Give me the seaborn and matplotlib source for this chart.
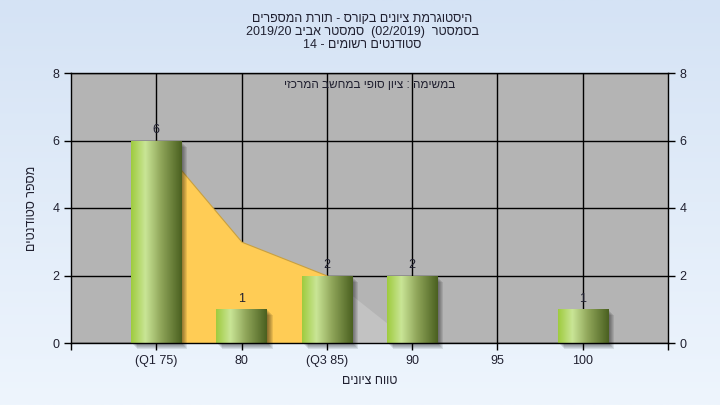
import re
import numpy as np
import pandas as pd
import matplotlib
matplotlib.use("Agg")
import matplotlib.pyplot as plt
import seaborn as sns
from matplotlib.colors import LinearSegmentedColormap
from matplotlib.patches import Rectangle
from matplotlib.transforms import blended_transform_factory

# chart data
grades = ["75", "80", "85", "90", "95", "100"]
students = [6, 1, 2, 2, 0, 1]
curve = [6, 3, 2, 0, 0, 0]
tick_labels = ["(Q1 75)", "80", "(Q3 85)", "90", "95", "100"]

title_lines = ["היסטוגרמת ציונים בקורס - תורת המספרים",
               "בסמסטר  (02/2019)  סמסטר אביב 2019/20",
               "סטודנטים רשומים - 14"]
task_text = "במשימה : ציון סופי במחשב המרכזי"
x_title = "טווח ציונים"
y_title = "מספר סטודנטים"


def rtl(s):
    # matplotlib has no bidi support: flip to visual order, keep LTR runs
    r = s[::-1]
    r = re.sub(r"[0-9A-Za-z/.]+", lambda m: m.group(0)[::-1], r)
    return r.translate(str.maketrans("()", ")("))


sns.set_style("white")
plt.rcParams["font.family"] = ["Liberation Sans", "DejaVu Sans"]

df = pd.DataFrame({"grade": grades, "students": students})

fig = plt.figure(figsize=(7.2, 4.05), dpi=100)

# background gradient
bg = fig.add_axes([0, 0, 1, 1], zorder=-10)
bg_cmap = LinearSegmentedColormap.from_list("bg", ["#d5e3f5", "#eef5fd"])
bg.imshow(np.linspace(0, 1, 256).reshape(-1, 1), cmap=bg_cmap, aspect="auto",
          extent=[0, 1, 0, 1])
bg.axis("off")

ax = fig.add_axes([71 / 720, 62 / 405, 597 / 720, 270 / 405])
ax.set_facecolor("#b4b4b4")

xs = np.arange(len(grades))
# distribution area: orange between Q1 and Q3, light gray after
ax.fill_between(xs[:3], curve[:3], color="#ffcc55", edgecolor="#c8a040",
                linewidth=0.8, zorder=2)
ax.fill_between(xs[2:], curve[2:], color="#c2c2c2", linewidth=0, zorder=2)

sns.barplot(data=df, x="grade", y="students", order=grades, width=0.59,
            color="#9fcb3e", ax=ax, zorder=4, linewidth=0)

grad_cmap = LinearSegmentedColormap.from_list(
    "bar", [(0, "#9fcb3e"), (0.28, "#c9e596"), (0.6, "#8ea458"), (1, "#4a6020")])
grad = np.linspace(0, 1, 128).reshape(1, -1)
px_x = 7 / 597
px_y = 8 / 270
for p in list(ax.patches):
    x0, w, h = p.get_x(), p.get_width(), p.get_height()
    if h <= 0:
        continue
    # soft shadow, offset right and down
    for k in range(6):
        off = 1 + k
        ax.add_patch(Rectangle((x0 + off * px_x, -off * px_y), w, h,
                               color="black", alpha=0.09, linewidth=0, zorder=3,
                               clip_on=False))
    im = ax.imshow(grad, cmap=grad_cmap, aspect="auto",
                   extent=[x0, x0 + w, 0, h], zorder=5)
    im.set_clip_path(p)

for i, v in enumerate(students):
    if v > 0:
        ax.text(i, v + 0.12, str(v), ha="center", va="bottom", fontsize=9,
                color="#202030", zorder=6)

ax.set_xlim(-1, 6)
ax.set_ylim(0, 8)
ax.set_yticks([0, 2, 4, 6, 8])
ax.set_xticks(xs)
ax.set_xticklabels(tick_labels)
ax.set_xticks(np.arange(-1, 7), minor=True)
ax.grid(True, which="major", axis="both", color="black", linewidth=1, zorder=1)
ax.set_axisbelow(True)
ax.tick_params(axis="both", which="major", direction="out", length=5, width=1,
               color="black", labelsize=9, labelcolor="#202030",
               left=True, bottom=True, right=True, labelright=True)
ax.tick_params(axis="x", which="minor", length=5, width=1, color="black", bottom=True)
for s in ax.spines.values():
    s.set_color("black")
    s.set_linewidth(1)
    s.set_zorder(7)

ax.set_xlabel(rtl(x_title), fontsize=9, color="#202030", labelpad=6)
ax.set_ylabel(rtl(y_title), fontsize=9, color="#202030", labelpad=10)

trans = blended_transform_factory(ax.transAxes, ax.transData)
ax.text(0.5, 7.64, rtl(task_text), ha="center", va="center", fontsize=8.5,
        color="#202030", zorder=6, transform=trans)

for k, line in enumerate(title_lines):
    fig.text(0.503, 1 - (19 + 13 * k) / 405, rtl(line), ha="center", va="center",
             fontsize=9, color="#202030")

fig.savefig("out.png", dpi=100)
